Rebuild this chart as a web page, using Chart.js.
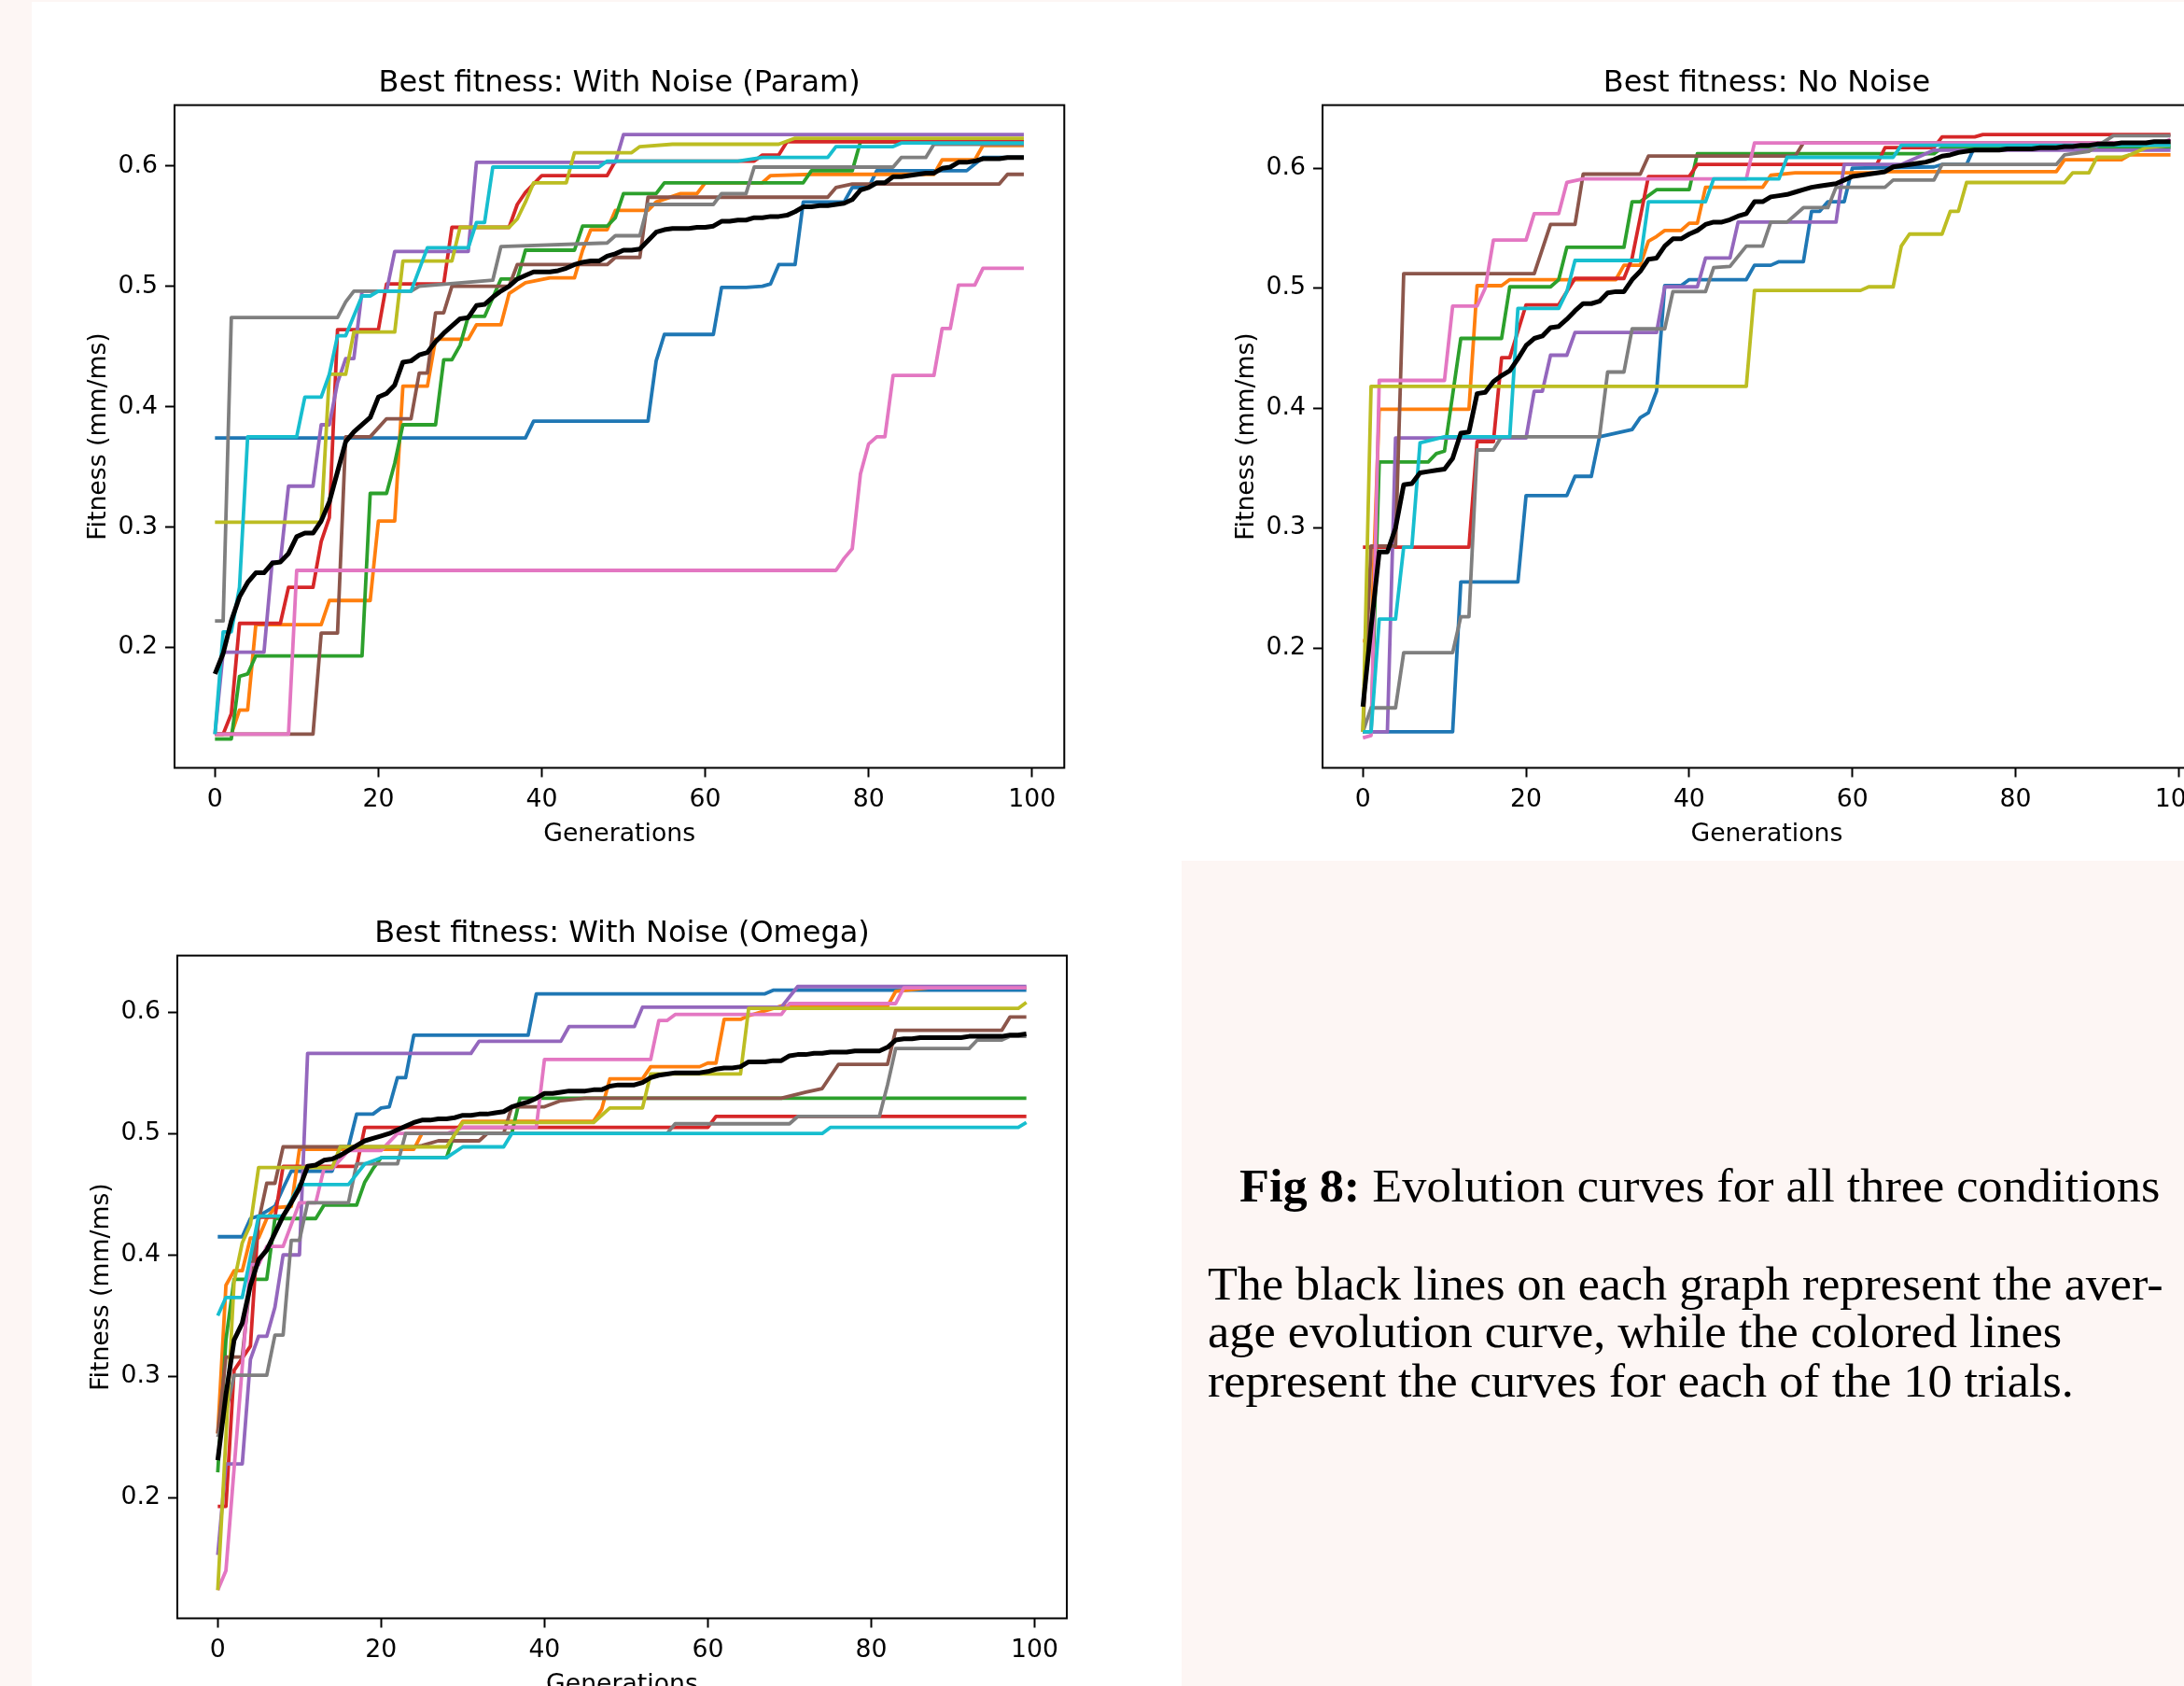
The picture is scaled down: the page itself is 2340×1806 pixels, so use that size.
<!DOCTYPE html>
<html>
<head>
<meta charset="utf-8">
<title>Fig 8 - Evolution curves</title>
<script src="https://cdn.jsdelivr.net/npm/chart.js@4.4.1/dist/chart.umd.min.js"></script>
<style>
  html, body { margin: 0; padding: 0; }
  body { width: 2340px; height: 1806px; overflow: hidden; position: relative; background: #fdf6f4; }
  .panel { position: absolute; background: #fff; }
  canvas { position: absolute; }
  .cap {
    position: absolute; white-space: pre; color: #000;
    font-family: "Liberation Serif", "Times New Roman", serif;
    font-size: 50.5px; line-height: 50.5px; transform-origin: 0 0;
  }
</style>
</head>
<body>
<div class="panel" style="left:34px;top:2px;width:2306px;height:920px"></div>
<div class="panel" style="left:34px;top:922px;width:1232px;height:884px"></div>

<canvas id="paramChart" width="1260" height="920" style="left:34px;top:2px"></canvas>
<canvas id="noNoiseChart" width="1260" height="920" style="left:1264px;top:2px"></canvas>
<canvas id="omegaChart" width="1260" height="920" style="left:37px;top:913px"></canvas>

<div class="cap" data-w="986" style="left:1328px;top:1245px"><b>Fig 8:</b> Evolution curves for all three conditions</div>
<div class="cap" data-w="1024" style="left:1294px;top:1350px">The black lines on each graph represent the aver-</div>
<div class="cap" data-w="915" style="left:1294px;top:1401px">age evolution curve, while the colored lines</div>
<div class="cap" data-w="928" style="left:1294px;top:1454px">represent the curves for each of the 10 trials.</div>

<script>
/* ---- data: [generation, best fitness] breakpoints per trial, averages per generation ---- */

const GEN_TICKS = [0, 20, 40, 60, 80, 100];
const FIT_TICKS = [0.2, 0.3, 0.4, 0.5, 0.6];

// Best fitness: With Noise (Param)
const PARAM_TRIALS = [
  [[0,.374],[38,.374],[39,.388],[53,.388],[54,.438],[55,.46],[61,.46],[62,.499],[65,.499],[67,.5],[68,.502],[69,.518],[71,.518],[72,.57],[77,.57],[78,.582],[80,.582],[81,.596],[92,.596],[94,.607],[99,.607]],
  [[0,.128],[2,.128],[3,.148],[4,.148],[5,.219],[13,.219],[14,.239],[19,.239],[20,.305],[22,.305],[23,.417],[26,.417],[27,.456],[31,.456],[32,.468],[35,.468],[36,.494],[38,.503],[41,.507],[44,.507],[45,.53],[46,.547],[48,.547],[49,.563],[53,.563],[54,.57],[57,.577],[59,.577],[60,.586],[67,.586],[68,.592],[73,.593],[88,.593],[89,.605],[93,.605],[94,.617],[99,.617]],
  [[0,.124],[2,.124],[3,.176],[4,.178],[5,.193],[18,.193],[19,.328],[21,.328],[22,.353],[23,.385],[27,.385],[28,.439],[29,.439],[30,.451],[31,.475],[33,.475],[35,.506],[37,.506],[38,.53],[44,.53],[45,.55],[48,.55],[49,.557],[50,.577],[54,.577],[55,.586],[72,.586],[73,.596],[78,.596],[79,.62],[99,.62]],
  [[0,.128],[1,.128],[2,.145],[3,.22],[8,.22],[9,.25],[12,.25],[13,.288],[14,.308],[15,.464],[20,.464],[21,.502],[28,.502],[29,.549],[36,.549],[37,.568],[38,.578],[40,.592],[48,.592],[49,.604],[66,.604],[67,.609],[69,.609],[70,.62],[99,.62]],
  [[0,.128],[1,.196],[6,.196],[7,.271],[8,.271],[9,.334],[12,.334],[13,.385],[14,.385],[15,.42],[16,.44],[17,.44],[18,.496],[21,.496],[22,.529],[31,.529],[32,.603],[49,.603],[50,.626],[99,.626]],
  [[0,.128],[12,.128],[13,.212],[15,.212],[16,.375],[19,.375],[21,.39],[24,.39],[25,.428],[26,.428],[27,.478],[28,.478],[29,.5],[36,.5],[37,.518],[48,.518],[49,.524],[52,.524],[53,.574],[75,.574],[76,.582],[78,.585],[96,.585],[97,.593],[99,.593]],
  [[0,.128],[9,.128],[10,.264],[76,.264],[77,.274],[78,.282],[79,.344],[80,.369],[81,.375],[82,.375],[83,.426],[88,.426],[89,.465],[90,.465],[91,.501],[93,.501],[94,.515],[99,.515]],
  [[0,.222],[1,.222],[2,.474],[15,.474],[16,.487],[17,.496],[24,.496],[25,.5],[34,.505],[35,.533],[48,.536],[49,.542],[52,.542],[53,.568],[61,.568],[62,.577],[65,.577],[66,.599],[83,.599],[84,.607],[87,.607],[88,.618],[99,.618]],
  [[0,.304],[13,.304],[14,.427],[16,.427],[17,.462],[22,.462],[23,.521],[29,.521],[30,.549],[36,.549],[37,.556],[38,.57],[39,.586],[43,.586],[44,.611],[51,.611],[52,.616],[56,.618],[69,.618],[71,.623],[99,.623]],
  [[0,.128],[1,.213],[2,.213],[3,.25],[4,.375],[10,.375],[11,.408],[13,.408],[14,.427],[15,.459],[16,.459],[18,.492],[19,.492],[20,.496],[24,.496],[26,.532],[31,.532],[32,.553],[33,.553],[34,.599],[47,.599],[48,.604],[64,.604],[67,.607],[75,.607],[76,.616],[83,.616],[84,.619],[99,.619]],
];
const PARAM_AVG = [
  .178,.195,.222,.242,.254,.262,.262,.270,.271,.278, .292,.295,.295,.305,.321,.346,.371,.379,.385,.391,
  .408,.411,.418,.437,.438,.443,.445,.454,.461,.467, .473,.474,.484,.485,.491,.496,.500,.506,.509,.512,
  .512,.512,.513,.515,.518,.520,.521,.521,.525,.527, .530,.530,.531,.538,.545,.547,.548,.548,.548,.549,
  .549,.550,.554,.554,.555,.555,.557,.557,.558,.558, .559,.562,.566,.566,.567,.567,.568,.569,.572,.580,
  .582,.586,.586,.591,.591,.592,.593,.594,.594,.598, .599,.603,.603,.604,.606,.606,.606,.607,.607,.607,
];

// Best fitness: No Noise
const NONOISE_TRIALS = [
  [[0,.13],[11,.13],[12,.255],[19,.255],[20,.327],[25,.327],[26,.343],[28,.343],[29,.376],[33,.382],[34,.392],[35,.396],[36,.414],[37,.502],[39,.502],[40,.507],[47,.507],[48,.519],[50,.519],[51,.522],[54,.522],[55,.564],[56,.564],[57,.572],[59,.572],[60,.6],[70,.601],[71,.603],[74,.603],[75,.618],[99,.618]],
  [[0,.206],[1,.206],[2,.399],[13,.399],[14,.502],[17,.502],[18,.507],[31,.507],[32,.519],[34,.519],[35,.539],[36,.543],[37,.548],[39,.548],[40,.554],[41,.554],[42,.584],[49,.584],[50,.594],[53,.596],[63,.596],[64,.597],[85,.597],[86,.607],[93,.607],[94,.611],[99,.611]],
  [[0,.13],[1,.13],[2,.355],[8,.355],[9,.362],[10,.364],[12,.458],[17,.458],[18,.501],[23,.501],[24,.507],[25,.534],[32,.534],[33,.572],[34,.572],[36,.582],[40,.582],[41,.612],[70,.612],[71,.617],[99,.617]],
  [[0,.284],[13,.284],[14,.372],[16,.372],[17,.442],[18,.442],[20,.486],[24,.486],[26,.508],[32,.508],[33,.525],[35,.593],[40,.593],[41,.603],[63,.603],[64,.617],[70,.617],[71,.626],[75,.626],[76,.628],[99,.628]],
  [[0,.13],[3,.13],[4,.375],[20,.375],[21,.414],[22,.414],[23,.444],[25,.444],[26,.463],[36,.463],[37,.501],[41,.501],[42,.525],[45,.525],[46,.555],[58,.555],[59,.603],[66,.603],[70,.615],[99,.615]],
  [[0,.13],[1,.285],[4,.285],[5,.512],[21,.512],[23,.553],[26,.553],[27,.595],[34,.595],[35,.61],[53,.61],[54,.621],[99,.621]],
  [[0,.125],[1,.127],[2,.423],[10,.423],[11,.485],[14,.485],[15,.5],[16,.54],[20,.54],[21,.562],[24,.562],[25,.588],[27,.591],[47,.591],[48,.621],[98,.621],[99,.624]],
  [[0,.13],[1,.15],[4,.15],[5,.196],[11,.196],[12,.226],[13,.226],[14,.365],[16,.365],[17,.376],[29,.376],[30,.43],[32,.43],[33,.466],[37,.466],[38,.497],[42,.497],[43,.517],[45,.518],[47,.535],[49,.535],[50,.555],[52,.555],[54,.567],[57,.567],[58,.584],[64,.584],[65,.59],[70,.59],[71,.603],[85,.603],[86,.611],[89,.614],[92,.627],[99,.627]],
  [[0,.13],[1,.418],[47,.418],[48,.498],[61,.498],[62,.501],[65,.501],[66,.535],[67,.545],[71,.545],[72,.564],[73,.564],[74,.588],[86,.588],[87,.596],[89,.596],[90,.609],[93,.609],[94,.611],[96,.617],[99,.619]],
  [[0,.13],[1,.13],[2,.224],[4,.224],[5,.284],[6,.284],[7,.371],[10,.376],[18,.376],[19,.483],[24,.483],[25,.497],[26,.523],[34,.523],[35,.572],[42,.572],[43,.591],[51,.591],[52,.609],[65,.609],[66,.619],[99,.619]],
];
const NONOISE_AVG = [
  .151,.217,.280,.280,.300,.336,.337,.346,.347,.348, .349,.358,.379,.380,.412,.413,.422,.427,.431,.441,
  .452,.458,.460,.467,.468,.474,.481,.487,.487,.489, .496,.497,.497,.507,.514,.524,.525,.535,.541,.541,
  .545,.548,.553,.555,.555,.557,.560,.562,.572,.572, .576,.577,.578,.580,.582,.584,.585,.586,.587,.590,
  .593,.594,.595,.596,.597,.601,.602,.603,.604,.605, .607,.610,.611,.613,.614,.615,.615,.615,.615,.616,
  .616,.616,.616,.617,.617,.617,.618,.618,.619,.619, .620,.620,.620,.621,.621,.621,.621,.622,.622,.622,
];

// Best fitness: With Noise (Omega)
const OMEGA_TRIALS = [
  [[0,.415],[3,.415],[4,.43],[5,.432],[7,.44],[8,.455],[9,.469],[14,.469],[15,.489],[16,.489],[17,.516],[19,.516],[20,.521],[21,.522],[22,.546],[23,.546],[24,.581],[38,.581],[39,.615],[67,.615],[68,.618],[99,.618]],
  [[0,.253],[1,.375],[2,.387],[3,.387],[4,.414],[5,.414],[6,.43],[7,.439],[9,.44],[10,.487],[24,.487],[25,.5],[29,.5],[30,.51],[46,.51],[47,.52],[48,.545],[52,.545],[53,.555],[59,.555],[60,.558],[61,.558],[62,.594],[64,.594],[65,.597],[69,.605],[82,.605],[83,.617],[87,.62],[99,.62]],
  [[0,.221],[1,.33],[2,.38],[6,.38],[7,.43],[12,.43],[13,.441],[17,.441],[18,.46],[19,.471],[20,.48],[28,.48],[29,.5],[36,.5],[37,.529],[99,.529]],
  [[0,.193],[1,.193],[2,.305],[4,.325],[5,.431],[7,.431],[8,.473],[17,.473],[18,.505],[60,.505],[61,.514],[99,.514]],
  [[0,.153],[1,.228],[3,.228],[4,.314],[5,.333],[6,.333],[7,.357],[8,.4],[10,.4],[11,.566],[31,.566],[32,.576],[42,.576],[43,.588],[51,.588],[52,.604],[69,.604],[71,.621],[99,.621]],
  [[0,.253],[1,.316],[3,.316],[4,.38],[5,.428],[6,.459],[7,.459],[8,.489],[24,.489],[25,.49],[27,.494],[32,.494],[33,.5],[35,.5],[36,.522],[40,.522],[42,.527],[45,.529],[69,.529],[72,.534],[74,.537],[76,.557],[82,.557],[83,.585],[96,.585],[97,.596],[99,.596]],
  [[0,.124],[1,.14],[4,.392],[5,.392],[6,.407],[8,.407],[10,.443],[12,.443],[13,.471],[14,.471],[16,.486],[20,.486],[22,.5],[28,.5],[30,.505],[39,.505],[40,.561],[53,.561],[54,.593],[55,.593],[56,.598],[69,.598],[70,.607],[83,.607],[84,.62],[99,.62]],
  [[0,.25],[1,.27],[2,.301],[6,.301],[7,.334],[8,.334],[9,.412],[10,.412],[11,.443],[16,.443],[17,.475],[22,.475],[23,.5],[55,.5],[56,.508],[70,.508],[71,.514],[81,.514],[82,.54],[83,.57],[92,.57],[93,.577],[96,.577],[97,.58],[99,.58]],
  [[0,.124],[1,.25],[2,.378],[3,.41],[4,.425],[5,.472],[14,.472],[15,.489],[28,.489],[30,.509],[46,.509],[48,.521],[52,.521],[53,.549],[64,.549],[65,.603],[98,.603],[99,.608]],
  [[0,.35],[1,.365],[3,.365],[5,.432],[8,.432],[10,.458],[16,.458],[18,.475],[20,.48],[28,.48],[30,.489],[35,.489],[36,.5],[74,.5],[75,.505],[98,.505],[99,.509]],
];
const OMEGA_AVG = [
  .231,.285,.330,.344,.375,.396,.404,.418,.432,.443, .455,.473,.474,.478,.479,.482,.486,.490,.494,.496,
  .498,.500,.503,.506,.509,.511,.511,.512,.512,.513, .515,.515,.516,.516,.517,.518,.522,.524,.526,.529,
  .533,.533,.534,.535,.535,.535,.536,.536,.539,.540, .540,.540,.542,.546,.548,.549,.550,.550,.550,.550,
  .551,.553,.554,.554,.555,.559,.559,.559,.560,.560, .564,.565,.565,.566,.566,.567,.567,.567,.568,.568,
  .568,.568,.571,.577,.578,.578,.579,.579,.579,.579, .579,.579,.580,.580,.580,.580,.580,.581,.581,.582,
];

/* ---- styling ---- */

const TAB10 = ['#1f77b4','#ff7f0e','#2ca02c','#d62728','#9467bd','#8c564b','#e377c2','#7f7f7f','#bcbd22','#17becf'];
const FONT = "'DejaVu Sans', sans-serif";
const TICK_FONT = { family: FONT, size: 26.7 };
const AXIS_W = 153;   // room for y ticks + label; mirrored on the right so the title centres over the axes

// matplotlib-style box around the axes
const framePlugin = {
  id: 'frame',
  afterDatasetsDraw(chart) {
    const { ctx, chartArea: a } = chart;
    ctx.save();
    ctx.strokeStyle = '#000';
    ctx.lineWidth = 2;
    ctx.strokeRect(a.left, a.top, a.right - a.left, a.bottom - a.top);
    ctx.restore();
  },
};

const tickGrid = { drawOnChartArea: false, drawTicks: true, tickLength: 10, tickColor: '#000', tickWidth: 2 };

function renderFitnessChart(id, title, trials, avg, yMin, yMax, rightPad) {
  const datasets = trials.map((pts, i) => ({
    data: pts.map(p => ({ x: p[0], y: p[1] })),
    borderColor: TAB10[i],
    borderWidth: 3.8,
    order: 11 - i,
  }));
  datasets.push({
    data: avg.map((v, g) => ({ x: g, y: v })),
    borderColor: '#000',
    borderWidth: 5,
    order: 0,
  });

  return new Chart(document.getElementById(id), {
    type: 'line',
    data: { datasets },
    plugins: [framePlugin],
    options: {
      responsive: false,
      animation: false,
      devicePixelRatio: 1,
      layout: { padding: { left: 0, right: rightPad, top: 0, bottom: 0 } },
      elements: {
        point: { radius: 0 },
        line: { tension: 0, borderJoinStyle: 'round', fill: false },
      },
      plugins: {
        legend: { display: false },
        tooltip: { enabled: false },
        title: {
          display: true, text: title, color: '#000',
          font: { family: FONT, size: 32, weight: 'normal' },
          padding: { top: 68, bottom: 4.2 },
        },
      },
      scales: {
        x: {
          type: 'linear', min: -4.95, max: 103.95,
          afterFit: s => { s.height = 99.5; },
          afterBuildTicks: s => { s.ticks = GEN_TICKS.map(v => ({ value: v })); },
          ticks: { color: '#000', font: TICK_FONT, padding: 9, autoSkip: false, maxRotation: 0, callback: v => String(v) },
          grid: tickGrid,
          border: { display: false },
          title: { display: true, text: 'Generations', color: '#000', font: TICK_FONT, padding: { top: 0, bottom: 11.5 } },
        },
        y: {
          type: 'linear', min: yMin, max: yMax,
          afterFit: s => { s.width = AXIS_W; },
          afterBuildTicks: s => { s.ticks = FIT_TICKS.map(v => ({ value: v })); },
          ticks: { color: '#000', font: TICK_FONT, padding: 8, autoSkip: false, callback: v => v.toFixed(1) },
          grid: tickGrid,
          border: { display: false },
          title: { display: true, text: 'Fitness (mm/ms)', color: '#000', font: TICK_FONT, padding: { top: 56, bottom: 0 } },
        },
        yMirror: {
          type: 'linear', position: 'right', min: yMin, max: yMax,
          afterFit: s => { s.width = AXIS_W; },
          ticks: { display: false },
          grid: { display: false },
          border: { display: false },
        },
      },
    },
  });
}

renderFitnessChart('paramChart', 'Best fitness: With Noise (Param)', PARAM_TRIALS, PARAM_AVG, 0.1, 0.6505, 0.7);
renderFitnessChart('noNoiseChart', 'Best fitness: No Noise', NONOISE_TRIALS, NONOISE_AVG, 0.1, 0.6525, 2.2);
renderFitnessChart('omegaChart', 'Best fitness: With Noise (Omega)', OMEGA_TRIALS, OMEGA_AVG, 0.1008, 0.6465, 1);

// squeeze caption lines to the widths they have in the figure
function fitCaption() {
  document.querySelectorAll('.cap').forEach(el => {
    const target = parseFloat(el.dataset.w);
    const w = el.offsetWidth;
    if (w > 0) el.style.transform = `scaleX(${target / w})`;
  });
}
fitCaption();
if (document.fonts && document.fonts.ready) document.fonts.ready.then(fitCaption);
</script>
</body>
</html>
